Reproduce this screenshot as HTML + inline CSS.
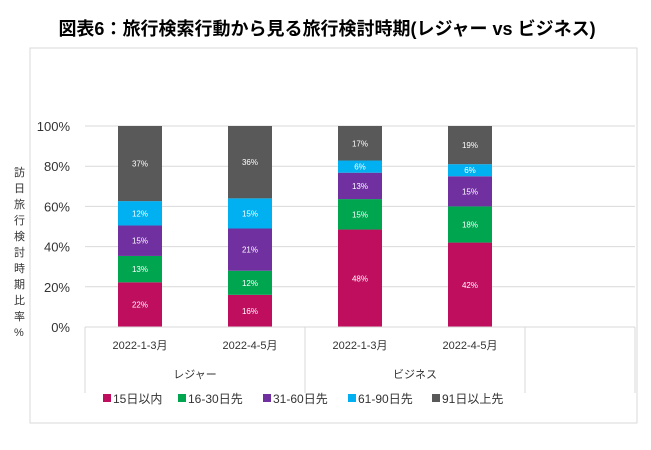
<!DOCTYPE html>
<html><head><meta charset="utf-8"><style>
body{margin:0;background:#fff;width:651px;height:445px;overflow:hidden;font-family:"Liberation Sans","Noto Sans CJK JP",sans-serif}
</style></head><body>
<svg width="651" height="445" font-family="'Liberation Sans','Noto Sans CJK JP',sans-serif">
<text x="327" y="35" text-anchor="middle" font-size="18" font-weight="bold" fill="#000">図表6：旅行検索行動から見る旅行検討時期(レジャー vs ビジネス)</text>
<rect x="30" y="48" width="607" height="375" fill="none" stroke="#d9d9d9"/>
<g id="grid"></g><g id="bars"></g><g id="axis"></g><g id="legend"></g>
<text font-size="11" fill="#333">
<tspan x="14" y="176">訪</tspan><tspan x="14" y="192">日</tspan><tspan x="14" y="208">旅</tspan><tspan x="14" y="224">行</tspan><tspan x="14" y="240">検</tspan><tspan x="14" y="256">討</tspan><tspan x="14" y="272">時</tspan><tspan x="14" y="288">期</tspan><tspan x="14" y="304">比</tspan><tspan x="14" y="320">率</tspan><tspan x="14" y="336">%</tspan></text>
</svg>
<script>
const categories=["2022-1-3月","2022-4-5月","2022-1-3月","2022-4-5月"];
const groups=["レジャー","ビジネス"];
const seriesNames=["15日以内","16-30日先","31-60日先","61-90日先","91日以上先"];
const colors=["#c00e5e","#00a550","#7030a0","#00b0f0","#595959"];
const s15=[22,16,48,42];
const s16=[13,12,15,18];
const s31=[15,21,13,15];
const s61=[12,15,6,6];
const s91=[37,36,17,19];
const yTicks=[0,20,40,60,80,100];
const series=[s15,s16,s31,s61,s91];
const NS="http://www.w3.org/2000/svg";
const x0=85,slot=110,y0=327,y1=126,bw=44;
const y=v=>y0-(v/100)*(y0-y1);
const cx=i=>x0+slot*i+slot/2;
function mk(tag,attrs,parent,txt){const e=document.createElementNS(NS,tag);for(const k in attrs)e.setAttribute(k,attrs[k]);if(txt!=null)e.textContent=txt;document.getElementById(parent).appendChild(e);return e;}
yTicks.forEach(t=>{
 if(t>0){const l=mk('line',{x1:x0,x2:635,y1:y(t),y2:y(t),stroke:'#d9d9d9'},'grid');
 
 }
 const tx=mk('text',{x:70,y:y(t)+5,'text-anchor':'end','font-size':13,fill:'#333'},'axis',t+'%');
 
 
});
categories.forEach((c,i)=>{
 let tot=0;series.forEach(s=>tot+=s[i]);
 let acc=0;
 series.forEach((s,k)=>{
  const v=s[i]/tot*100;
  const r=mk('rect',{x:cx(i)-bw/2,y:y(acc+v),width:bw,height:y(acc)-y(acc+v),fill:colors[k]},'bars');
  
  
  const t=mk('text',{x:cx(i),y:(y(acc)+y(acc+v))/2+3,'text-anchor':'middle','font-size':8,fill:'#fff'},'bars',s[i]+'%');
  
  
  acc+=v;
 });
 const ct=mk('text',{x:cx(i),y:349,'text-anchor':'middle','font-size':11,fill:'#333'},'axis',c);
 
 
});
const ax=mk('line',{x1:x0,x2:635,y1:y0,y2:y0,stroke:'#d9d9d9'},'axis');


[0,2,4,5].forEach(i=>{const l=mk('line',{x1:x0+slot*i,x2:x0+slot*i,y1:y0,y2:393,stroke:'#d9d9d9'},'axis');
 
 });
groups.forEach((g,j)=>{const t=mk('text',{x:x0+slot*(2*j+1),y:378,'text-anchor':'middle','font-size':11,fill:'#333'},'axis',g);
 
 });
const lx=[103,178,263,348,432];
seriesNames.forEach((n,k)=>{
 const r=mk('rect',{x:lx[k],y:394,width:8,height:8,fill:colors[k]},'legend');
 
 
 const t=mk('text',{x:lx[k]+10,y:403,'font-size':12,fill:'#333'},'legend',n);
 
 
});
</script>
</body></html>
